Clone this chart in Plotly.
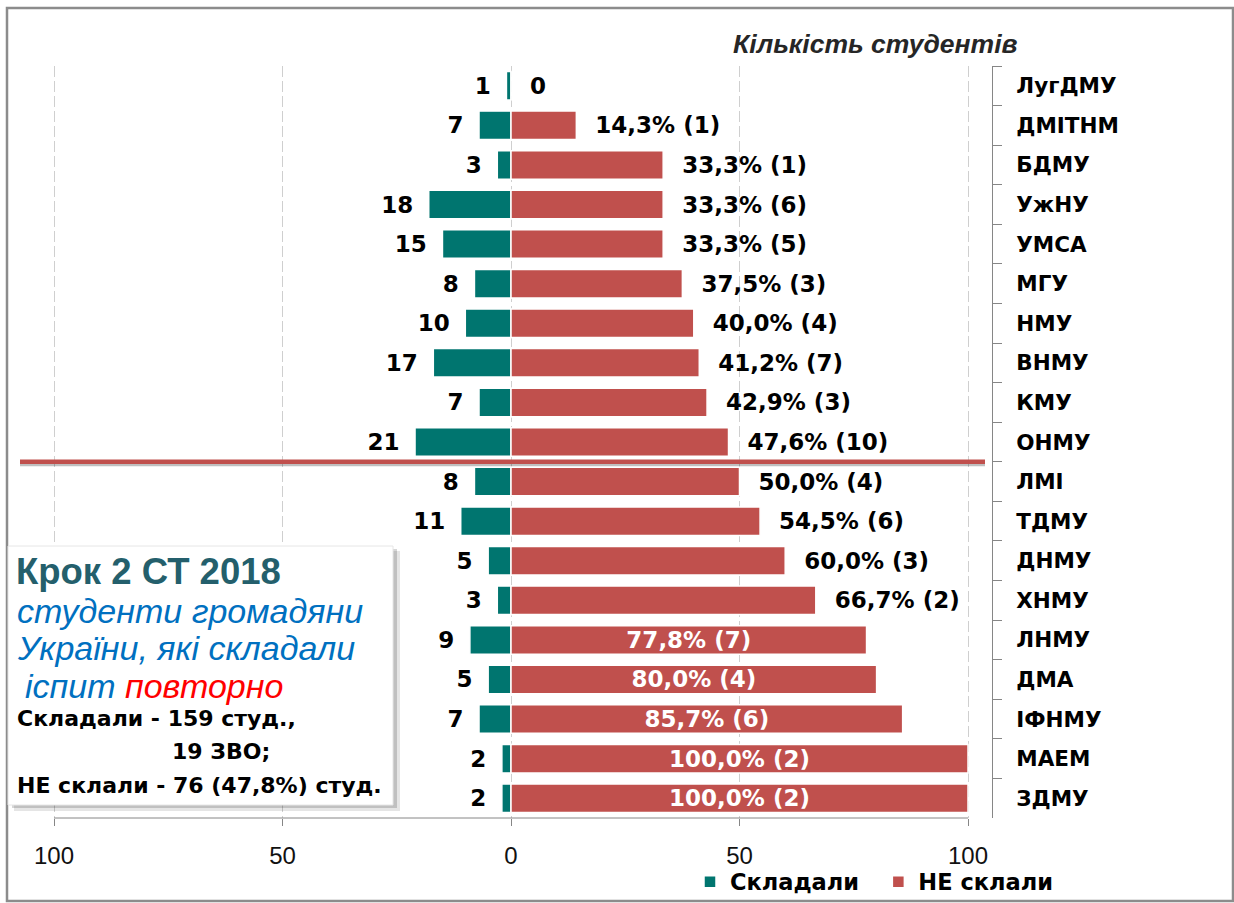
import plotly.graph_objects as go

# ---------------- data ----------------
universities = ["ЛугДМУ", "ДМІТНМ", "БДМУ", "УжНУ", "УМСА", "МГУ", "НМУ", "ВНМУ", "КМУ", "ОНМУ",
                "ЛМІ", "ТДМУ", "ДНМУ", "ХНМУ", "ЛНМУ", "ДМА", "ІФНМУ", "МАЕМ", "ЗДМУ"]
took_exam = [1, 7, 3, 18, 15, 8, 10, 17, 7, 21, 8, 11, 5, 3, 9, 5, 7, 2, 2]
failed_pct = [0, 14.3, 33.3, 33.3, 33.3, 37.5, 40.0, 41.2, 42.9, 47.6,
              50.0, 54.5, 60.0, 66.7, 77.8, 80.0, 85.7, 100.0, 100.0]
failed_n = [0, 1, 1, 6, 5, 3, 4, 7, 3, 10, 4, 6, 3, 2, 7, 4, 6, 2, 2]
x_tick_vals = [-100, -50, 0, 50, 100]
x_tick_text = ["100", "50", "0", "50", "100"]
threshold_between = ("ОНМУ", "ЛМІ")

TEAL = "#00756F"
RED = "#C0504D"
NB = "\u00a0"
THIN = "\u2009"

# ---------------- layout geometry (pixels) ----------------
W, H = 1234, 903
PL, PR, PT, PB = 20, 992, 66, 818   # plot area in px


def px(x):
    return (x - PL) / (PR - PL)


def py(y):
    return (PB - y) / (PB - PT)


# ---------------- labels ----------------
teal_text = [f"{v}{NB}{THIN}" for v in took_exam]
red_text, red_pos = [], []
for p, n in zip(failed_pct, failed_n):
    if p == 0:
        red_text.append(f"{NB}{NB}0")
        red_pos.append("outside")
    elif p >= 75:
        red_text.append(f"{p:.1f}".replace(".", ",") + f"% ({n})")
        red_pos.append("inside")
    else:
        red_text.append(f"{NB}{NB}" + f"{p:.1f}".replace(".", ",") + f"% ({n})")
        red_pos.append("outside")

label_font = dict(family="DejaVu Sans", size=23, color="#000000", weight="bold")

fig = go.Figure()
fig.add_trace(go.Bar(
    y=universities, x=[-v for v in took_exam], orientation="h",
    name=f"<b>Складали</b>{NB}{NB}", marker=dict(color=TEAL, line=dict(color="white", width=1.5)),
    text=teal_text, textposition="outside", textfont=label_font,
    constraintext="none", cliponaxis=False, width=0.72,
))
fig.add_trace(go.Bar(
    y=universities, x=failed_pct, orientation="h",
    name="<b>НЕ склали</b>", marker=dict(color=RED, line=dict(color="white", width=1.5)),
    text=red_text, textposition=red_pos, insidetextanchor="middle",
    outsidetextfont=label_font,
    insidetextfont=dict(family="DejaVu Sans", size=23, color="white", weight="bold"),
    constraintext="none", cliponaxis=False, width=0.72,
))

xmin = -(511 - PL) / 4.57
xmax = (PR - 511) / 4.57

fig.update_layout(
    width=W, height=H,
    margin=dict(l=PL, r=W - PR, t=PT, b=H - PB, pad=0, autoexpand=False),
    paper_bgcolor="white", plot_bgcolor="white",
    barmode="relative", bargap=0.28,
    showlegend=True,
    legend=dict(orientation="h", x=px(690), xanchor="left", y=py(882), yanchor="middle",
                font=dict(family="DejaVu Sans", size=22.5, color="#000000"),
                bgcolor="rgba(0,0,0,0)", traceorder="normal", itemwidth=30),
    xaxis=dict(range=[xmin, xmax], tickvals=x_tick_vals, ticktext=x_tick_text,
               showgrid=True, gridcolor="#CFCFCF", griddash="11px,4px", gridwidth=1,
               zeroline=False, showline=False,
               ticks="outside", ticklen=7, tickcolor="#868686",
               ticklabelstandoff=9,
               tickfont=dict(family="Liberation Sans", size=24, color="#111111"),
               fixedrange=True),
    yaxis=dict(side="right", autorange="reversed", showgrid=False, zeroline=False,
               showline=True, linecolor="#868686", linewidth=1,
               ticks="outside", tickson="boundaries", ticklen=9, tickcolor="#868686",
               ticklabelstandoff=19,
               tickfont=dict(family="DejaVu Sans", size=21.5, color="#000000", weight="bold"),
               fixedrange=True),
)

shapes = []
# outer border
shapes.append(dict(type="rect", xref="paper", yref="paper",
                   x0=px(7), x1=px(1233), y0=py(901), y1=py(8),
                   line=dict(color="#8C8C8C", width=2.5), fillcolor="rgba(0,0,0,0)", layer="above"))
# x axis baseline from -100 to 100
shapes.append(dict(type="line", xref="x", yref="paper", x0=-100, x1=100, y0=0, y1=0,
                   line=dict(color="#868686", width=1), layer="above"))
# threshold line between ОНМУ and ЛМІ (with shadow)
i_thr = universities.index(threshold_between[0]) + 0.5
shapes.append(dict(type="line", xref="paper", yref="y", x0=0, x1=px(985), y0=i_thr + 0.075, y1=i_thr + 0.075,
                   line=dict(color="rgba(0,0,0,0.25)", width=3), layer="above"))
shapes.append(dict(type="line", xref="paper", yref="y", x0=0, x1=px(985), y0=i_thr, y1=i_thr,
                   line=dict(color=RED, width=4.5), layer="above"))
# info box shadow + box
shapes.append(dict(type="rect", xref="paper", yref="paper",
                   x0=px(14), x1=px(400), y0=py(811), y1=py(551),
                   line=dict(width=0), fillcolor="rgba(0,0,0,0.10)", layer="above"))
shapes.append(dict(type="rect", xref="paper", yref="paper",
                   x0=px(12), x1=px(397), y0=py(808), y1=py(549),
                   line=dict(width=0), fillcolor="rgba(0,0,0,0.16)", layer="above"))
shapes.append(dict(type="rect", xref="paper", yref="paper",
                   x0=px(8), x1=px(393), y0=py(805), y1=py(546),
                   line=dict(color="#E6E6E6", width=1), fillcolor="white", layer="above"))
fig.update_layout(shapes=shapes)

ann = []
ann.append(dict(text="<b><i>Кількість студентів</i></b>", x=px(875), y=py(44), xref="paper", yref="paper",
                xanchor="center", yanchor="middle", showarrow=False,
                font=dict(family="Liberation Sans", size=26.5, color="#262626")))


def box_line(text, x, y, size, color, family="Liberation Sans"):
    ann.append(dict(text=text, x=px(x), y=py(y), xref="paper", yref="paper",
                    xanchor="left", yanchor="middle", showarrow=False,
                    font=dict(family=family, size=size, color=color)))


box_line("<b>Крок 2 СТ 2018</b>", 14, 571, 36.5, "#245F6C")
box_line("<i>студенти громадяни</i>", 15, 611, 34, "#0070C0")
box_line("<i>України, які складали</i>", 15, 648, 34, "#0070C0")
box_line("<i>іспит <span style='color:#FF0000'>повторно</span></i>", 23, 686, 34, "#0070C0")
box_line("<b>Складали - 159 студ.,</b>", 15, 718, 22, "#000000", "DejaVu Sans")
box_line("<b>19 ЗВО;</b>", 170, 751, 22, "#000000", "DejaVu Sans")
box_line("<b>НЕ склали - 76 (47,8%) студ.</b>", 15, 785, 22, "#000000", "DejaVu Sans")
fig.update_layout(annotations=ann)

fig.write_html("out.html", config={"displayModeBar": False},
               post_script="document.body.style.margin='0';")
